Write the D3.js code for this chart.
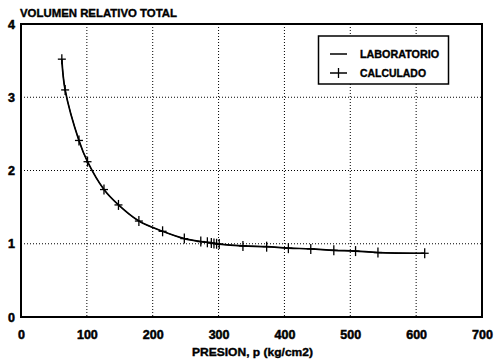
<!DOCTYPE html>
<html>
<head>
<meta charset="utf-8">
<script src="https://cdn.jsdelivr.net/npm/d3@7"></script>
<style>
  html, body { margin: 0; padding: 0; background: #fff; }
  svg { display: block; }
  text { font-family: "Liberation Sans", Arial, sans-serif; font-weight: bold; fill: #000; stroke: #000; stroke-width: 0.35px; }
</style>
</head>
<body>
<svg id="chart" width="497" height="360"></svg>
<script>
// ---- data ----
const pressure = [62, 67, 88, 101, 126, 148, 179, 215, 248, 273, 283, 289, 293, 297, 301, 337, 373, 406, 440, 475, 508, 542, 613];
const laboratorio = [3.52, 3.10, 2.41, 2.12, 1.74, 1.53, 1.31, 1.17, 1.07, 1.03, 1.02, 1.01, 1.005, 1.0, 0.995, 0.97, 0.96, 0.94, 0.93, 0.91, 0.90, 0.88, 0.87];
const calculado = [3.52, 3.10, 2.41, 2.12, 1.74, 1.53, 1.31, 1.17, 1.07, 1.03, 1.02, 1.01, 1.005, 1.0, 0.995, 0.97, 0.96, 0.94, 0.93, 0.91, 0.90, 0.88, 0.87];
const xTicks = [0, 100, 200, 300, 400, 500, 600, 700];
const yTicks = [0, 1, 2, 3, 4];
const seriesNames = ["LABORATORIO", "CALCULADO"];
const yTitle = "VOLUMEN RELATIVO TOTAL";
const xTitle = "PRESION, p (kg/cm2)";

// ---- layout ----
const svg = d3.select("#chart");
const L = 21, R = 482, T = 24, B = 317;
const x = d3.scaleLinear().domain([0, 700]).range([L, R]);
const y = d3.scaleLinear().domain([0, 4]).range([B, T]);

// grid
svg.append("g").selectAll("line").data(xTicks.filter(d => d > 0 && d < 700)).join("line")
  .attr("x1", d => x(d)).attr("x2", d => x(d)).attr("y1", T).attr("y2", B)
  .attr("stroke", "#000").attr("stroke-width", 1).attr("stroke-dasharray", "1,2");
svg.append("g").selectAll("line").data(yTicks.filter(d => d > 0 && d < 4)).join("line")
  .attr("x1", L).attr("x2", R).attr("y1", d => y(d)).attr("y2", d => y(d))
  .attr("stroke", "#000").attr("stroke-width", 1).attr("stroke-dasharray", "1,2");

// frame
svg.append("rect").attr("x", L).attr("y", T).attr("width", R - L).attr("height", B - T)
  .attr("fill", "none").attr("stroke", "#000").attr("stroke-width", 2);

// axes via d3
const xAxis = svg.append("g").attr("transform", `translate(0,${B})`)
  .call(d3.axisBottom(x).tickValues(xTicks).tickSize(0).tickPadding(13).tickFormat(d3.format("d")));
xAxis.select(".domain").remove();
xAxis.selectAll("text").style("font-size", "12.5px").style("font-family", "'Liberation Sans', Arial, sans-serif")
  .style("font-weight", "bold").style("stroke", "#000").style("stroke-width", "0.5px");

const yAxis = svg.append("g").attr("transform", `translate(${L},0)`)
  .call(d3.axisLeft(y).tickValues(yTicks).tickSize(0).tickPadding(6).tickFormat(d3.format("d")));
yAxis.select(".domain").remove();
yAxis.selectAll("text").style("font-size", "12.5px").style("font-family", "'Liberation Sans', Arial, sans-serif")
  .style("font-weight", "bold").style("stroke", "#000").style("stroke-width", "0.5px");

// titles
svg.append("text").attr("x", 20).attr("y", 17).attr("font-size", 10.5).attr("textLength", 157)
  .attr("lengthAdjust", "spacingAndGlyphs").text(yTitle);
svg.append("text").attr("x", 192).attr("y", 356).attr("font-size", 10.5).attr("textLength", 121)
  .attr("lengthAdjust", "spacingAndGlyphs").text(xTitle);

// curves
const lineGen = d3.line().x(d => x(d[0])).y(d => y(d[1])).curve(d3.curveCatmullRom.alpha(0.5));
svg.append("path").datum(pressure.map((p, i) => [p, laboratorio[i]]))
  .attr("d", lineGen).attr("fill", "none").attr("stroke", "#000").attr("stroke-width", 1.7);
svg.append("path").datum(pressure.map((p, i) => [p, calculado[i]]))
  .attr("d", lineGen).attr("fill", "none").attr("stroke", "#000").attr("stroke-width", 1);

// markers (calculado)
const cross = svg.append("g");
pressure.forEach((p, i) => {
  const cx = x(p), cy = y(calculado[i]);
  cross.append("line").attr("x1", cx - 4).attr("x2", cx + 4).attr("y1", cy).attr("y2", cy)
    .attr("stroke", "#000").attr("stroke-width", 1.3);
  cross.append("line").attr("x1", cx).attr("x2", cx).attr("y1", cy - 5).attr("y2", cy + 5)
    .attr("stroke", "#000").attr("stroke-width", 1.3);
});

// legend
const lg = svg.append("g");
lg.append("rect").attr("x", 318.5).attr("y", 36).attr("width", 130).attr("height", 48)
  .attr("fill", "#fff").attr("stroke", "#000").attr("stroke-width", 1.5);
const rows = [54, 73];
seriesNames.forEach((name, i) => {
  const yy = rows[i];
  lg.append("line").attr("x1", 330).attr("x2", 347).attr("y1", yy).attr("y2", yy)
    .attr("stroke", "#000").attr("stroke-width", 1.5);
  if (i === 1) {
    lg.append("line").attr("x1", 338.5).attr("x2", 338.5).attr("y1", yy - 5).attr("y2", yy + 5)
      .attr("stroke", "#000").attr("stroke-width", 1.3);
  }
  lg.append("text").attr("x", 360).attr("y", yy + 4).attr("font-size", 10)
    .attr("textLength", i === 0 ? 79 : 66).attr("lengthAdjust", "spacingAndGlyphs").text(name);
});
</script>
</body>
</html>
